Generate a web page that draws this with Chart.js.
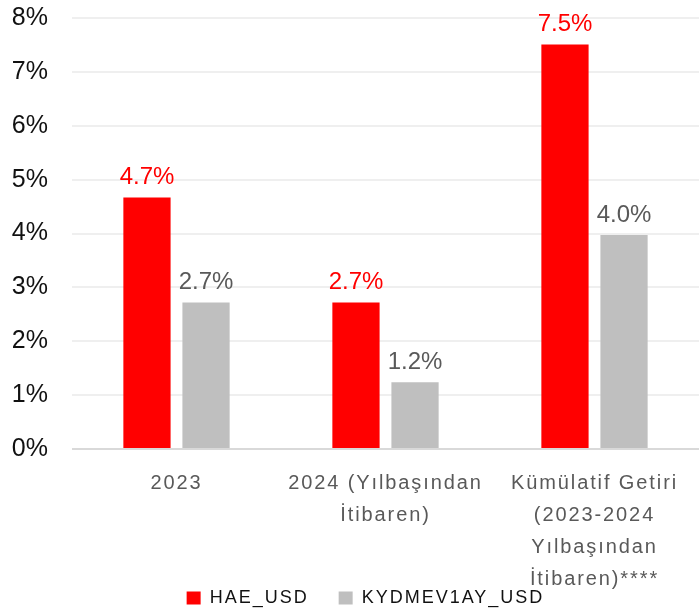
<!DOCTYPE html>
<html><head><meta charset="utf-8">
<script src="https://cdn.jsdelivr.net/npm/chart.js@4"></script>
<style>html,body{margin:0;padding:0;background:#fff;}#wrap{width:699px;height:616px;}</style>
</head><body><div id="wrap"><canvas id="c" width="699" height="616"></canvas></div>
<script>
const categories = [["2023"], ["2024 (Yılbaşından", "İtibaren)"], ["Kümülatif Getiri", "(2023-2024", "Yılbaşından", "İtibaren)****"]];
const haeUsd = [4.67, 2.72, 7.51];
const kydmUsd = [2.72, 1.24, 3.97];
const seriesNames = ["HAE_USD", "KYDMEV1AY_USD"];
const yTicks = [0, 1, 2, 3, 4, 5, 6, 7, 8];

const FONT = "'Liberation Sans', Arial, sans-serif";

function wrapWithSpacing(obj, name, sp, after, before) {
  const orig = obj[name];
  obj[name] = function(...args) {
    const ctx = this.ctx || this.chart.ctx;
    const prev = ctx.letterSpacing;
    ctx.letterSpacing = sp;
    if (before) before.call(this);
    const r = orig.apply(this, args);
    if (after) after.call(this);
    ctx.letterSpacing = prev;
    return r;
  };
}

const LEGEND_HEIGHT = 57;
const LEGEND_SHIFT = 10;
const X_AXIS_HEIGHT = 110;
const X_LABEL_EXTRA = 60;

const spacingPlugin = {
  id: 'spacing',
  beforeLayout(chart) {
    if (chart._spWrapped) return;
    chart._spWrapped = true;
    if (chart.legend) {
      wrapWithSpacing(chart.legend, 'fit', '2px', function() { this.height = LEGEND_HEIGHT; });
      wrapWithSpacing(chart.legend, 'draw', '2px',
        function() { this.left -= LEGEND_SHIFT; this.right -= LEGEND_SHIFT; },
        function() { this.left += LEGEND_SHIFT; this.right += LEGEND_SHIFT; });
    }
    if (chart.scales.x) {
      wrapWithSpacing(chart.scales.x, 'drawLabels', '1.9px',
        function() { this.bottom -= X_LABEL_EXTRA; },
        function() { this.bottom += X_LABEL_EXTRA; });
    }
  }
};

const labelPlugin = {
  id: 'valLabels',
  afterDatasetsDraw(chart) {
    const ctx = chart.ctx;
    ctx.save();
    ctx.font = "24px " + FONT;
    ctx.textAlign = 'center';
    ctx.textBaseline = 'alphabetic';
    chart.data.datasets.forEach((ds, di) => {
      const meta = chart.getDatasetMeta(di);
      meta.data.forEach((el, i) => {
        ctx.fillStyle = ds.labelColor;
        ctx.fillText(ds.data[i].toFixed(1) + '%', el.x, el.y - 13);
      });
    });
    ctx.restore();
  }
};

new Chart(document.getElementById('c'), {
  type: 'bar',
  data: {
    labels: categories,
    datasets: [
      { label: seriesNames[0], data: haeUsd, backgroundColor: '#ff0000', labelColor: '#ff0000',
        categoryPercentage: 0.565, barPercentage: 0.8 },
      { label: seriesNames[1], data: kydmUsd, backgroundColor: '#bfbfbf', labelColor: '#595959',
        categoryPercentage: 0.565, barPercentage: 0.8 }
    ]
  },
  options: {
    responsive: false,
    animation: false,
    devicePixelRatio: 1,
    layout: { padding: { top: 0, right: 0, left: 12, bottom: 0 } },
    plugins: {
      tooltip: { enabled: false },
      legend: {
        position: 'bottom',
        labels: { boxWidth: 14, boxHeight: 13, font: { size: 18, family: FONT }, color: '#111', padding: 30 }
      }
    },
    scales: {
      x: {
        grid: { display: false },
        border: { display: false },
        afterFit(axis) { axis.height = X_AXIS_HEIGHT; },
        ticks: { font: { size: 20, family: FONT, lineHeight: 1.6 }, color: '#595959', maxRotation: 0, autoSkip: false, padding: 10 }
      },
      y: {
        min: 0, max: 8,
        afterBuildTicks(axis) { axis.ticks = yTicks.map(v => ({ value: v })); },
        afterFit(axis) { axis.width = 60; axis.paddingTop = 18; axis.paddingBottom = 0; },
        grid: {
          color: ctx => ctx.tick && ctx.tick.value === 0 ? '#d9d9d9' : '#efefef',
          lineWidth: 2, drawTicks: false
        },
        border: { display: false },
        ticks: { font: { size: 25, family: FONT }, color: '#111', padding: 24, callback: v => v + '%' }
      }
    }
  },
  plugins: [spacingPlugin, labelPlugin]
});
</script></body></html>
